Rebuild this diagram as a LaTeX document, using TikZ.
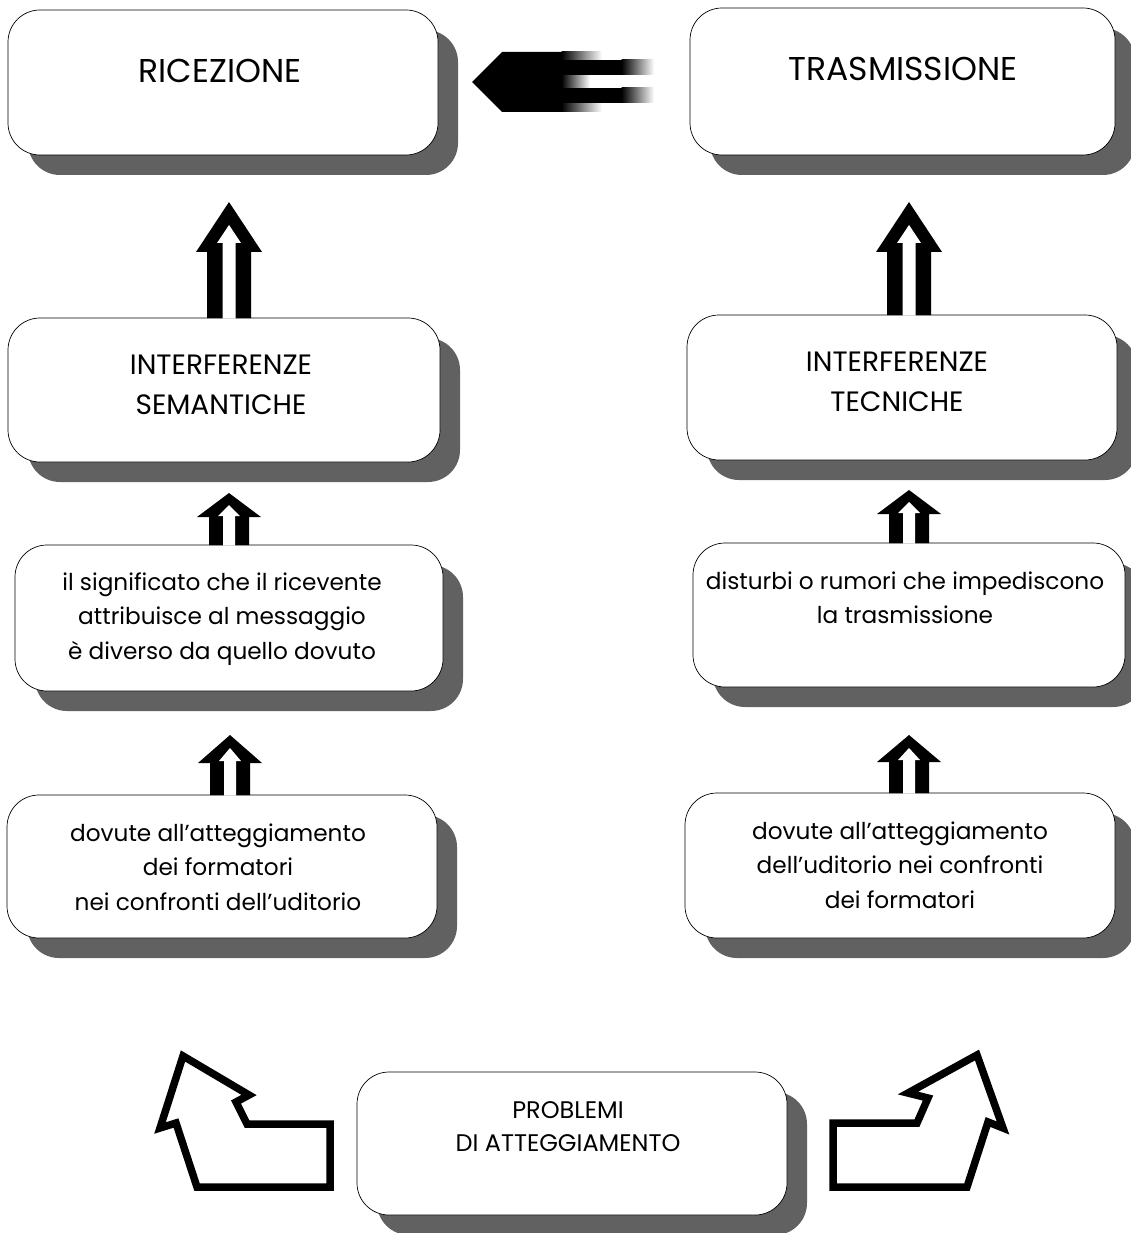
\documentclass[tikz,border=0pt]{standalone}
\usepackage{fontspec}
\setmainfont{Poppins}
\usetikzlibrary{shadows}

\tikzset{
  box/.style={draw=black, line width=0.7pt, fill=white, rounded corners=32pt,
    inner sep=0pt,
    drop shadow={shadow xshift=20pt, shadow yshift=-20pt, fill=black!62, opacity=1}},
  title/.style={font=\fontsize{33}{38}\selectfont, align=center, inner sep=0pt},
  head/.style={font=\fontsize{28}{40}\selectfont, align=center, inner sep=0pt},
  body/.style={font=\fontsize{23.2}{34.5}\selectfont, align=center, inner sep=0pt},
  probtxt/.style={font=\fontsize{24}{33}\selectfont, align=center, inner sep=0pt},
  hollow/.style={draw=black, line width=7.5pt, line join=miter, fill=white},
  % double-shafted upward arrow: #1 height, #2 head height, #3 head half width,
  % #4 shaft half width, #5 channel half width, #6 inner tip drop,
  % #7 inner head base drop, #8 inner head half width
  pics/dblup/.style n args={8}{code={
    \fill[black] (-#4,0) -- (-#4,-#1+#2) -- (-#3,-#1+#2) -- (0,-#1)
      -- (#3,-#1+#2) -- (#4,-#1+#2) -- (#4,0) -- cycle;
    \fill[white] (-#5,0.5) -- (-#5,-#1+#7) -- (-#8,-#1+#7) -- (0,-#1+#6)
      -- (#8,-#1+#7) -- (#5,-#1+#7) -- (#5,0.5) -- cycle;
  }}
}

\begin{document}
\begin{tikzpicture}[x=1pt,y=-1pt]
\useasboundingbox (0,0) rectangle (1130,1233);
\fill[white] (0,0) rectangle (1130,1233);

% boxes
\node[box, minimum width=430pt, minimum height=145pt] (ric)  at (223,82.5)   {};
\node[box, minimum width=425pt, minimum height=147pt] (tras) at (902.5,81.5) {};
\node[box, minimum width=432pt, minimum height=144pt] (sem)  at (224,390)    {};
\node[box, minimum width=430pt, minimum height=145pt] (tec)  at (902,387.5)  {};
\node[box, minimum width=428pt, minimum height=146pt] (sig)  at (229,618)    {};
\node[box, minimum width=432pt, minimum height=144pt] (dist) at (909,615)    {};
\node[box, minimum width=430pt, minimum height=143pt] (dovL) at (222,866.5)  {};
\node[box, minimum width=430pt, minimum height=145pt] (dovR) at (900,865.5)  {};
\node[box, minimum width=430pt, minimum height=143pt] (prob) at (572,1143.5) {};

% texts
\node[title] (ricT)  at (220,71)  {RICEZIONE};
\node[title] (trasT) at (903,69)  {TRASMISSIONE};
\node[head]  (semT)  at (221,385) {INTERFERENZE\\SEMANTICHE};
\node[head]  (tecT)  at (897,382) {INTERFERENZE\\TECNICHE};
\node[body]  (sigT)  at (222,619) {il significato che il ricevente\\attribuisce al messaggio\\è diverso da quello dovuto};
\node[body]  (distT) at (905,598) {disturbi o rumori che impediscono\\la trasmissione};
\node[body]  (dovLT) at (218,867) {dovute all’atteggiamento\\dei formatori\\nei confronti dell’uditorio};
\node[body]  (dovRT) at (900,865) {dovute all’atteggiamento\\dell’uditorio nei confronti\\dei formatori};
\node[probtxt] (probT) at (568,1127) {PROBLEMI\\DI ATTEGGIAMENTO};

% upward double arrows
\pic at (229,318) {dblup={116}{50}{33}{22}{6.5}{23}{41}{12}};
\pic at (909,315) {dblup={113}{50}{33}{22}{6.5}{23}{41}{12}};
\pic at (229,545) {dblup={52}{24}{32}{20}{6}{12}{23}{11}};
\pic at (909,543) {dblup={53}{24}{32}{20}{6}{12}{23}{11}};
\pic at (230,795) {dblup={60}{28}{32}{20}{6}{13}{26}{11}};
\pic at (909,793) {dblup={58}{27}{32}{20}{6}{13}{25}{11}};

% leftward double arrow from TRASMISSIONE to RICEZIONE, fading at its back
\fill[black] (472,82) -- (502,52) -- (562,52) -- (562,112) -- (502,112) -- cycle;
\shade[left color=black, right color=white] (561.5,52) rectangle (602,60.5);
\shade[left color=black, right color=white] (561.5,102.5) rectangle (602,112);
\shade[left color=black, right color=white] (561.5,74.5) rectangle (590,88.5);
\fill[black] (561.5,60) rectangle (622,75);
\fill[black] (561.5,88) rectangle (622,103);
\shade[left color=black, right color=white] (621.5,60) rectangle (654,75);
\shade[left color=black, right color=white] (621.5,88) rectangle (654,103);

% hollow bent arrows beside PROBLEMI DI ATTEGGIAMENTO
\draw[hollow] (183,1056) -- (249,1095) -- (236,1102) -- (247,1124) -- (330,1124)
  -- (330,1187) -- (197,1187) -- (176,1123) -- (160,1128) -- cycle;
\draw[hollow] (977,1055) -- (1003,1128) -- (988,1122) -- (967,1187) -- (833,1187)
  -- (833,1123) -- (917,1123) -- (928,1098) -- (908,1093) -- cycle;
\end{tikzpicture}
\end{document}
